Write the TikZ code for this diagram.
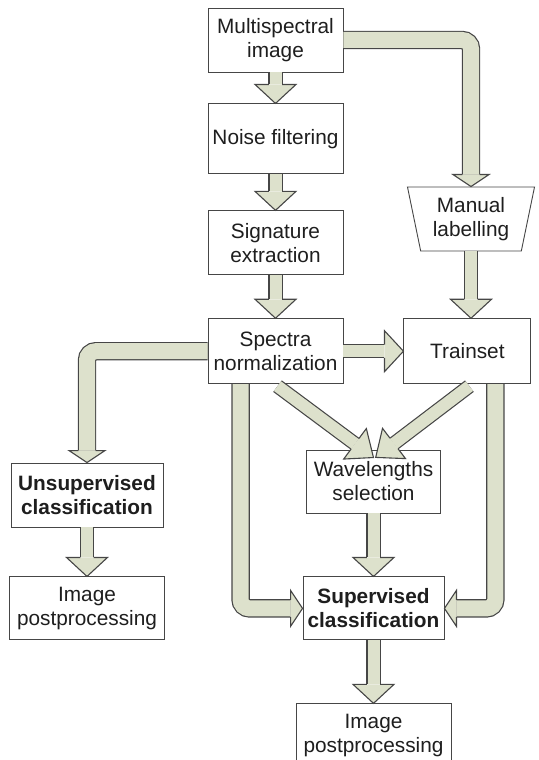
\documentclass[tikz,border=0pt]{standalone}
\usepackage{fontspec}
\setmainfont{Liberation Sans}
\usetikzlibrary{calc}
\usetikzlibrary{positioning}
\usetikzlibrary{decorations.markings}
\usetikzlibrary{shapes.geometric}

\definecolor{arrfill}{RGB}{221,225,204}
\definecolor{arredge}{RGB}{70,70,70}
\definecolor{boxline}{RGB}{70,70,70}
\definecolor{txt}{RGB}{30,30,30}

\tikzset{
  fat len/.store in = \fatlen,
  fat half/.store in = \fathalf,
  fat shaft/.store in = \fatshaft,
  fat len = 19pt,
  fat half = 20.5pt,
  fat shaft = 12pt,
  % head of a block arrow, its base is left open where the shaft comes in
  fat head/.style = {
    fill = arrfill,
    draw = arredge,
    line width = 1.1pt,
    sharp corners,
    shorten > = 0pt,
    shorten < = 0pt,
    line join = miter
  },
  % block arrow: a double line for the shaft, the head put on its end
  fat/.style = {
    draw = arredge,
    line width = 1.2pt,
    double = arrfill,
    double distance = \fatshaft,
    shorten > = \fatlen,
    postaction = {
      decorate,
      decoration = {
        markings,
        mark = at position 1 with {
          \filldraw[fat head] (-\fatlen,0.5*\fatshaft+0.6pt)
            -- (-\fatlen,\fathalf) -- (0pt,0pt) -- (-\fatlen,-\fathalf)
            -- (-\fatlen,-0.5*\fatshaft-0.6pt);
        }
      }
    }
  },
  % block arrow with a bend
  bent/.style = {
    fat len = 12pt,
    fat half = 18pt,
    fat shaft = 16pt,
    rounded corners = 9pt,
    fat
  },
  % slanted block arrow
  slant/.style = {
    fat len = 23pt,
    fat half = 19pt,
    fat shaft = 12pt,
    fat
  }
}
\tikzset {
  box/.style = {
    draw = boxline,
    line width = 0.9pt,
    fill = white,
    text = txt,
    align = center,
    inner sep = 0pt,
    minimum width = 135pt,
    minimum height = 64pt,
    font = \fontsize{20.8}{24}\selectfont
  },
  % manual step
  manual/.style = {
    box,
    trapezium,
    trapezium stretches = true,
    shape border rotate = 180,
    trapezium left angle = 77,
    trapezium right angle = 77,
    minimum width = 128pt
  }
}

\begin{document}
\begin{tikzpicture}[x=1pt, y=-1pt]
    \useasboundingbox (0,0) rectangle (538,760);

    \node[box] (msi) at (275.5,40) {Multispectral\\image};
    \node[box, minimum height=70pt] (noise) [below=31pt of msi] {Noise filtering};
    \node[box] (sig) [below=36pt of noise] {Signature\\extraction};
    \node[box, minimum height=65pt] (spec) [below=43pt of sig] {Spectra\\normalization};
    \node[box, minimum width=127pt, minimum height=65pt] (train) [right=60pt of spec] {Trainset};
    \node[manual] (ml) at (471,219) {Manual\\labelling};

    \node[box, minimum width=152pt] (unsup) at (87,495) {\textbf{Unsupervised}\\\textbf{classification}};
    \node[box, minimum width=155pt, minimum height=63pt] (post1) [below=49pt of unsup] {Image\\postprocessing};

    \node[box, minimum width=134pt, minimum height=63pt] (wav) at (373.5,481.5) {Wavelengths\\selection};
    \node[box, minimum width=141pt, minimum height=63pt] (sup) [below=63pt of wav] {\textbf{Supervised}\\\textbf{classification}};
    \node[box, minimum width=155pt, minimum height=63pt] (post2) [below=63pt of sup] {Image\\postprocessing};

    \draw[fat] (msi) -- (noise);
    \draw[fat] (noise) -- (sig);
    \draw[fat] (sig) -- (spec);
    \draw[fat] (spec) -- (train);
    \draw[fat] (ml.south) -- (ml.south |- train.north);
    \draw[fat] (wav) -- (sup);
    \draw[fat] (sup) -- (post2);
    \draw[fat] (unsup) -- (post1);

    \draw[bent] (msi.east) -| (ml.north);
    \draw[bent] (spec.west) -| (unsup.north);
    \draw[bent] ([xshift=33pt]spec.south west) |- (sup.west);
    \draw[bent] ([xshift=-36pt]train.south east) |- (sup.east);

    \draw[slant] ([xshift=2pt,yshift=-2pt]spec.south) -- ([yshift=-8pt]wav.north);
    \draw[slant] ([xshift=2pt,yshift=-2pt]train.south) -- ([xshift=2pt,yshift=-8pt]wav.north);
\end{tikzpicture}
\end{document}
